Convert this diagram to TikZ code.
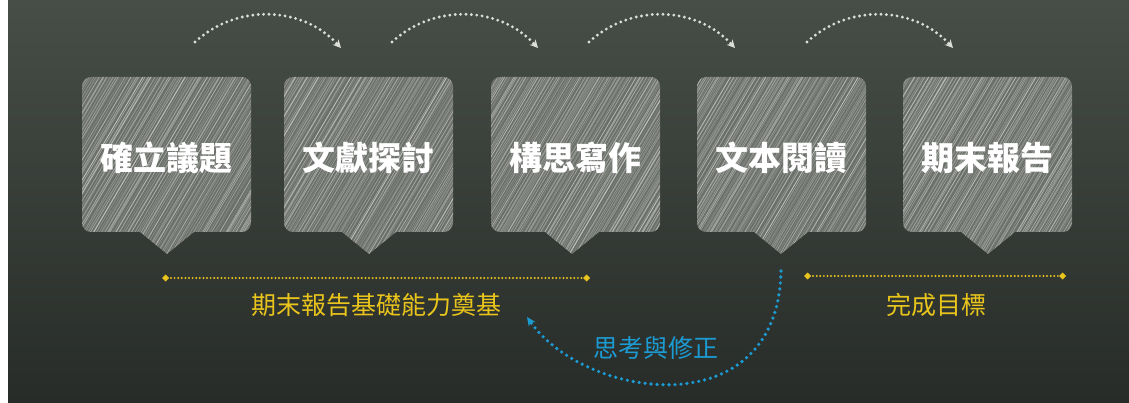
\documentclass[tikz,border=0pt]{standalone}
\usepackage{fontspec}
\newfontfamily\cjk{Noto Sans CJK TC}
\usetikzlibrary{arrows.meta}
\definecolor{bgtop}{HTML}{474D47}
\definecolor{bgbot}{HTML}{272C28}
\definecolor{boxbase}{HTML}{6C706A}
\definecolor{chalkw}{HTML}{DCDED8}
\definecolor{chalky}{HTML}{E9C41C}
\definecolor{chalkb}{HTML}{1C9BD3}
\tikzset{
  boxtext/.style={text=white,font=\cjk\bfseries\fontsize{33}{33}\selectfont,inner sep=0pt},
  ytext/.style={text=chalky,font=\cjk\fontsize{25}{25}\selectfont,inner sep=0pt},
  btext/.style={text=chalkb,font=\cjk\fontsize{25}{25}\selectfont,inner sep=0pt},
  wdots/.style={draw=chalkw,line width=3.2pt,line cap=round,dash pattern=on 0pt off 5.4pt,
    -{Stealth[length=8pt,width=8pt,inset=2.5pt]}},
  ydots/.style={draw=chalky,line width=2.2pt,line cap=round,dash pattern=on 0pt off 3.6pt,
    {Turned Square[length=7pt,width=7pt]}-{Turned Square[length=7pt,width=7pt]}},
  bdots/.style={draw=chalkb,line width=3.6pt,line cap=round,dash pattern=on 0pt off 6pt,
    -{Stealth[length=9pt,width=8pt]}},
}
\newcommand\chalkbox[5]{%
  \begin{scope}
    \path[clip,rounded corners=9pt] (#2,77) rectangle ({#2+169},232)
      [sharp corners] ({#3-27},232) -- (#3,254) -- ({#3+27},232) -- cycle;
    \fill[boxbase] (#2-5,70) rectangle ({#2+175},260);
    \pgfmathsetseed{#5}
    \foreach \k in {0,...,150} {
      \pgfmathsetmacro\xa{#2-125+\k*2+rand*1.2}
      \pgfmathsetmacro\op{0.12+0.35*rnd}
      \pgfmathsetmacro\lw{0.4+0.5*rnd}
      \draw[white,opacity=\op,line width=\lw pt] (\xa,262) -- ++(118,-200);
    }
  \end{scope}
  \node[boxtext] (#1) at ({#2+84.5},158) {#4};
}
\begin{document}
\begin{tikzpicture}[x=1pt,y=-1pt]
\useasboundingbox (0,0) rectangle (1129,403);
\shade[top color=bgtop,bottom color=bgbot] (8,0) rectangle (1129,403);
\fill[white] (0,0) rectangle (8,403);

\chalkbox{b1}{82}{167}{確立議題}{11}
\chalkbox{b2}{284}{369}{文獻探討}{22}
\chalkbox{b3}{491}{572}{構思寫作}{33}
\chalkbox{b4}{697}{781}{文本閱讀}{44}
\chalkbox{b5}{903}{988}{期末報告}{55}

% top arcs
\coordinate (a1s) at (195,42); \coordinate (a1e) at (341,48);
\coordinate (a2s) at (392,42); \coordinate (a2e) at (538,48);
\coordinate (a3s) at (589,42); \coordinate (a3e) at (735,48);
\coordinate (a4s) at (807,42); \coordinate (a4e) at (953,48);
\draw[wdots] (a1s) to[bend left=45] (a1e);
\draw[wdots] (a2s) to[bend left=45] (a2e);
\draw[wdots] (a3s) to[bend left=45] (a3e);
\draw[wdots] (a4s) to[bend left=45] (a4e);

% yellow spans
\coordinate (y1s) at (162,278); \coordinate (y1e) at (590,278);
\coordinate (y2s) at (804,276); \coordinate (y2e) at (1066,276);
\draw[ydots] (y1s) -- (y1e);
\draw[ydots] (y2s) -- (y2e);
\node[ytext] (t1) at (376,305) {期末報告基礎能力奠基};
\node[ytext] (t2) at (936,305) {完成目標};

% blue feedback arc
\coordinate (c1) at (781,271);
\coordinate (c2) at (527,317);
\draw[bdots] (c1) .. controls (778,428) and (585,400) .. (c2);
\node[btext] (t3) at (656,348) {思考與修正};
\end{tikzpicture}
\end{document}
